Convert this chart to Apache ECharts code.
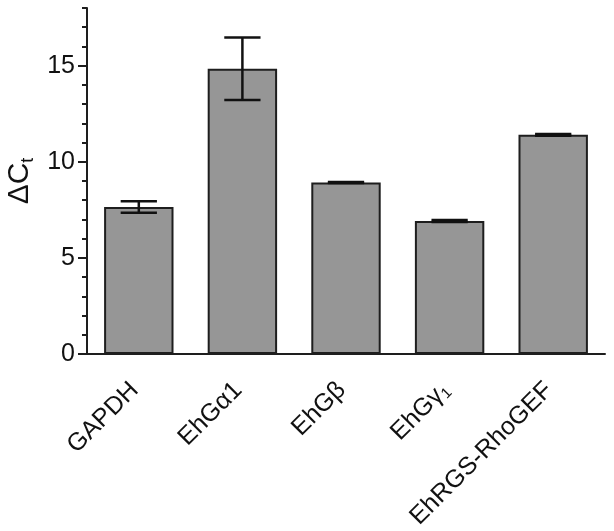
<!DOCTYPE html>
<html>
<head>
<meta charset="utf-8">
<script src="https://cdn.jsdelivr.net/npm/echarts@6/dist/echarts.min.js"></script>
<style>
  html, body { margin: 0; padding: 0; background: #fff; }
  #chart { width: 614px; height: 531px; }
</style>
</head>
<body>
<div id="chart"></div>
<script>
// data
const genes = ['GAPDH', 'EhGα1', 'EhGβ', 'EhGγ1', 'EhRGS-RhoGEF'];
const deltaCt = [7.65, 14.84, 8.92, 6.92, 11.40];
const sem = [0.30, 1.62, 0.03, 0.05, 0.05];
const majorTicks = [0, 5, 10, 15];

const myChart = echarts.init(document.getElementById('chart'));

// γ1 gets a subscript 1
const labelFmt = (v) => v === 'EhGγ1' ? '{n|EhGγ}{s|1}' : '{n|' + v + '}';

const ink = '#1e1e1e';
const font = 'Liberation Sans, Arial, sans-serif';

const option = {
  animation: false,
  grid: { left: 87, right: 9, top: 8, bottom: 177, containLabel: false, outerBoundsMode: 'none' },
  xAxis: {
    type: 'category',
    data: genes,
    axisLine: { lineStyle: { color: ink, width: 2 } },
    axisTick: { alignWithLabel: true, length: 9, lineStyle: { color: ink, width: 2 } },
    axisLabel: {
      rotate: 45,
      margin: 28,
      padding: [0, 6, 0, 0],
      interval: 0,
      formatter: labelFmt,
      rich: {
        n: { fontSize: 25, fontFamily: font, color: '#111' },
        s: { fontSize: 15, fontFamily: font, color: '#111', padding: [12, 0, 0, 0] }
      }
    }
  },
  yAxis: [
    {
      // minor ticks every 1
      type: 'value', min: 0, max: 18, interval: 1, position: 'left',
      axisLine: { show: true, lineStyle: { color: ink, width: 2 } },
      axisTick: { show: true, length: 5, lineStyle: { color: ink, width: 2 } },
      axisLabel: { show: false },
      splitLine: { show: false },
      name: '{m|ΔC}{s|t}',
      nameLocation: 'middle',
      nameRotate: 90,
      nameGap: 50,
      nameTextStyle: {
        rich: {
          m: { fontSize: 30, fontFamily: font, color: '#111' },
          s: { fontSize: 18, fontFamily: font, color: '#111', padding: [16, 0, 0, 0] }
        }
      }
    },
    {
      // major ticks + labels
      type: 'value', min: 0, max: 18, interval: 1, position: 'left', offset: 0,
      axisLine: { show: false },
      axisTick: { show: true, length: 9, customValues: majorTicks, lineStyle: { color: ink, width: 2 } },
      axisLabel: { customValues: majorTicks, fontSize: 25, fontFamily: font, color: '#111', margin: 12 },
      splitLine: { show: false }
    }
  ],
  series: [
    {
      type: 'bar',
      data: deltaCt,
      barWidth: '67%',
      itemStyle: { color: '#969696', borderColor: ink, borderWidth: 2 },
      z: 2
    },
    {
      type: 'custom',
      data: deltaCt.map((v, i) => [i, v, sem[i]]),
      z: 3,
      renderItem: function (params, api) {
        const x = api.value(0);
        const m = api.value(1);
        const e = api.value(2);
        const hi = api.coord([x, m + e]);
        const lo = api.coord([x, m - e]);
        const half = api.size([1, 0])[0] * 0.175;
        const style = { stroke: '#111', lineWidth: 2.5 };
        return {
          type: 'group',
          children: [
            { type: 'line', shape: { x1: hi[0], y1: hi[1], x2: lo[0], y2: lo[1] }, style: style },
            { type: 'line', shape: { x1: hi[0] - half, y1: hi[1], x2: hi[0] + half, y2: hi[1] }, style: style },
            { type: 'line', shape: { x1: lo[0] - half, y1: lo[1], x2: lo[0] + half, y2: lo[1] }, style: style }
          ]
        };
      }
    }
  ]
};

myChart.setOption(option);
</script>
</body>
</html>
